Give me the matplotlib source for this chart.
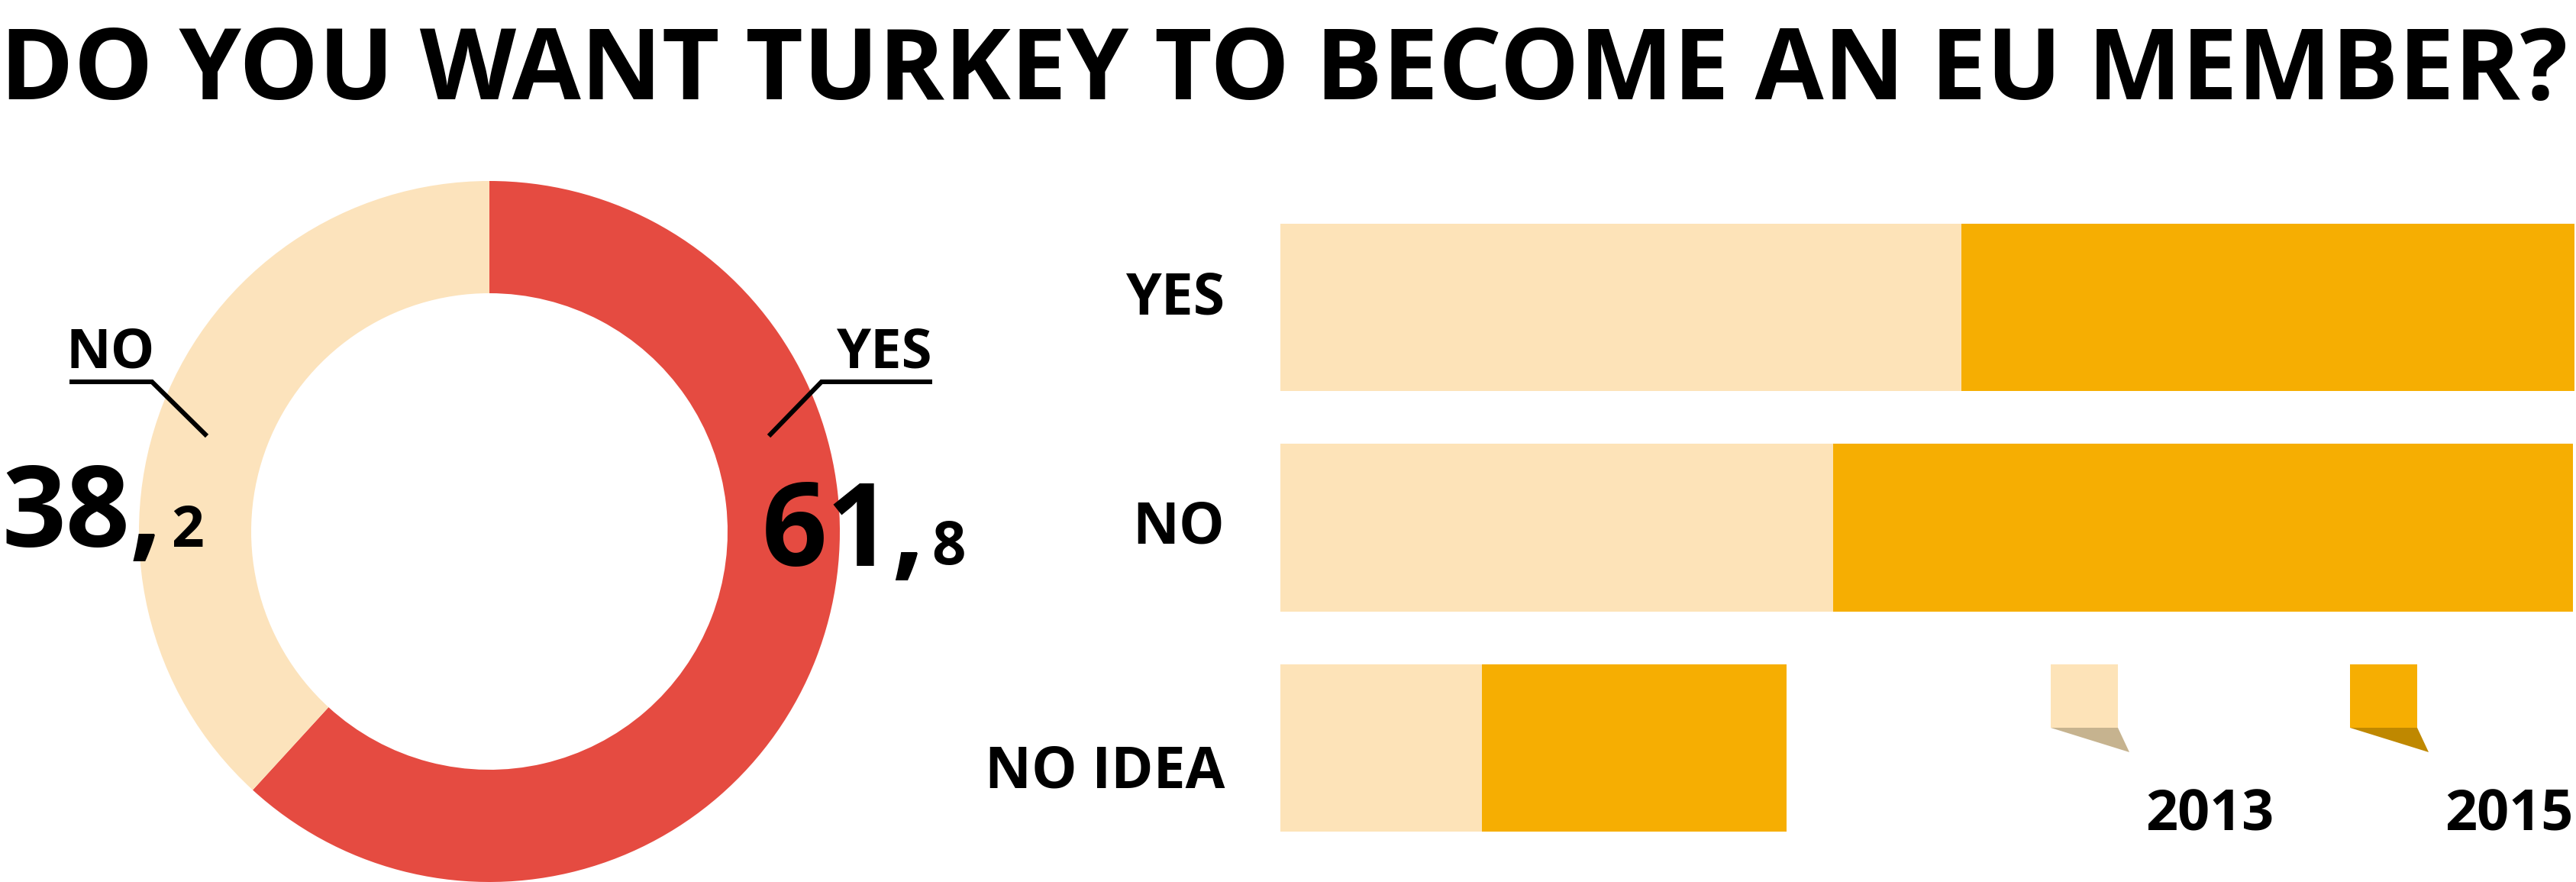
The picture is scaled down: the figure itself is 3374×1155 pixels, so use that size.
import matplotlib
matplotlib.use("Agg")
import matplotlib.pyplot as plt
from matplotlib.patches import Polygon, Rectangle
from matplotlib.lines import Line2D

plt.rcParams['font.family'] = ['Open Sans', 'DejaVu Sans']

# ---------------- data ----------------
title = "DO YOU WANT TURKEY TO BECOME AN EU MEMBER?"
pie_labels = ["YES", "NO"]
pie_values = [61.8, 38.2]
pie_int = ["61,", "38,"]
pie_dec = ["8", "2"]

bar_categories = ["YES", "NO", "NO IDEA"]
years = ["2013", "2015"]
values_2013 = [52.6, 42.7, 15.6]
values_2015 = [47.4, 57.2, 23.5]

# ---------------- style ----------------
W, H, DPI = 3374, 1155, 100
RED = "#E54B41"
PIE_LIGHT = "#FCE3BC"
C2013 = "#FDE3B8"
C2015 = "#F6AE02"
SH2013 = "#C6B38F"
SH2015 = "#BF8800"
WEIGHT = "bold"

fig = plt.figure(figsize=(W / DPI, H / DPI), dpi=DPI)
fig.patch.set_facecolor("white")

def fx(px):
    return px / W

def fy(py_top):
    return 1 - py_top / H

# ---------------- donut ----------------
cx, cy, R, r = 641, 696, 459, 312
ax_pie = fig.add_axes([fx(cx - R), fy(cy + R), 2 * R / W, 2 * R / H])
ax_pie.pie(pie_values, colors=[RED, PIE_LIGHT], startangle=90, counterclock=False,
           radius=1.0, wedgeprops=dict(width=(R - r) / R, linewidth=0))
ax_pie.set_xlim(-1, 1)
ax_pie.set_ylim(-1, 1)
ax_pie.set_aspect("equal")
ax_pie.axis("off")

# ---------------- bars ----------------
top_px, bot_px = 258, 1124
ax_bar = fig.add_axes([fx(1677), fy(bot_px), (3372 - 1677) / W, (bot_px - top_px) / H])
ypos = list(range(len(bar_categories)))
ax_bar.barh(ypos, values_2013, height=0.76, color=C2013, linewidth=0)
ax_bar.barh(ypos, values_2015, left=values_2013, height=0.76, color=C2015, linewidth=0)
ax_bar.set_xlim(0, 100)
ax_bar.set_ylim(len(bar_categories) - 0.5, -0.5)
ax_bar.axis("off")

# ---------------- overlay (texts, leaders, legend) ----------------
ov = fig.add_axes([0, 0, 1, 1])
ov.set_xlim(0, W)
ov.set_ylim(H, 0)
ov.axis("off")
ov.patch.set_alpha(0)

# category labels (right aligned, baselines like the source)
label_base = [411, 712, 1031]
for cat, yb in zip(bar_categories, label_base):
    ov.text(1604, yb, cat, ha="right", va="baseline",
            fontsize=54, fontweight=WEIGHT, color="black")

# title, fitted to the full width
t = ov.text(0, 130, title, ha="left", va="baseline", fontsize=90,
            fontweight=WEIGHT, color="black")
fig.canvas.draw()
bb = t.get_window_extent(fig.canvas.get_renderer())
t.set_fontsize(90 * 3362 / bb.width)

# donut labels and leader lines
lw = 4.4
ov.text(87, 481, pie_labels[1], ha="left", va="baseline", fontsize=52, fontweight=WEIGHT)
ov.add_line(Line2D([91, 199, 271], [500, 500, 571], color="black", lw=lw,
                   solid_joinstyle="miter", solid_capstyle="butt"))
ov.text(1221, 481, pie_labels[0], ha="right", va="baseline", fontsize=52, fontweight=WEIGHT)
ov.add_line(Line2D([1221, 1076, 1007], [500, 500, 571], color="black", lw=lw,
                   solid_joinstyle="miter", solid_capstyle="butt"))

# big numbers
ov.text(2, 716, pie_int[1], ha="left", va="baseline", fontsize=106, fontweight=WEIGHT)
ov.text(224, 716, pie_dec[1], ha="left", va="baseline", fontsize=54, fontweight=WEIGHT)
ov.text(998, 741, pie_int[0], ha="left", va="baseline", fontsize=108, fontweight=WEIGHT)
ov.text(1220, 739, pie_dec[0], ha="left", va="baseline", fontsize=56, fontweight=WEIGHT)

# legend swatches
for x0, col, sh, yr in [(2686, C2013, SH2013, years[0]), (3078, C2015, SH2015, years[1])]:
    ov.add_patch(Polygon([[x0, 953], [x0 + 88, 953], [x0 + 103, 985]], closed=True,
                         facecolor=sh, edgecolor="none"))
    ov.add_patch(Rectangle((x0, 870), 88, 83, facecolor=col, edgecolor="none"))
    ov.text(x0 + 292, 1087, yr, ha="right", va="baseline", fontsize=53, fontweight=WEIGHT)

fig.savefig("out.png", dpi=DPI, facecolor="white")
